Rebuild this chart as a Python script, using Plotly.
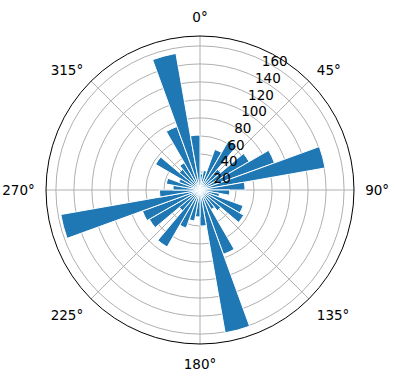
import plotly.graph_objects as go

# Bin centres (degrees, clockwise from north) and bar lengths
directions = [5, 15, 25, 35, 45, 55, 65, 75, 85,
              95, 105, 115, 125, 135, 145, 155, 165, 175,
              185, 195, 205, 215, 225, 235, 245, 255, 265,
              275, 285, 295, 305, 315, 325, 335, 345, 355]
counts = [18, 22, 48, 63, 30, 63, 88, 141, 50,
          33, 22, 51, 56, 30, 25, 76, 161, 40,
          30, 35, 45, 73, 30, 65, 68, 157, 45,
          30, 38, 25, 57, 30, 35, 75, 154, 61]
bin_width = 10

angle_ticks = [0, 45, 90, 135, 180, 225, 270, 315]
angle_labels = ["0°", "45°", "90°", "135°", "180°", "225°", "270°", "315°"]
radial_ticks = [20, 40, 60, 80, 100, 120, 140, 160]
radial_max = 171

fig = go.Figure()
fig.add_trace(go.Barpolar(
    theta=directions,
    r=counts,
    width=[bin_width] * len(directions),
    marker=dict(color="#1f77b4", line=dict(color="white", width=1)),
    opacity=1,
))

font = dict(family="DejaVu Sans", size=13.5, color="black")
fig.update_layout(
    width=396, height=380,
    margin=dict(l=46, r=42, t=36, b=36),
    paper_bgcolor="white",
    showlegend=False,
    font=font,
    polar=dict(
        bgcolor="white",
        bargap=0,
        angularaxis=dict(
            rotation=90, direction="clockwise",
            tickmode="array", tickvals=angle_ticks, ticktext=angle_labels,
            showline=True, linecolor="black", linewidth=1,
            gridcolor="#b0b0b0", gridwidth=1,
            ticks="outside", ticklen=8, tickcolor="rgba(0,0,0,0)",
            tickfont=font,
        ),
        radialaxis=dict(
            range=[0, radial_max],
            tickmode="array", tickvals=radial_ticks,
            ticktext=[str(v) for v in radial_ticks],
            angle=67.5, tickangle=67.5, side="clockwise",
            showline=False, ticks="",
            gridcolor="#b0b0b0", gridwidth=1,
            tickfont=font,
        ),
    ),
)

fig.write_html("out.html")
